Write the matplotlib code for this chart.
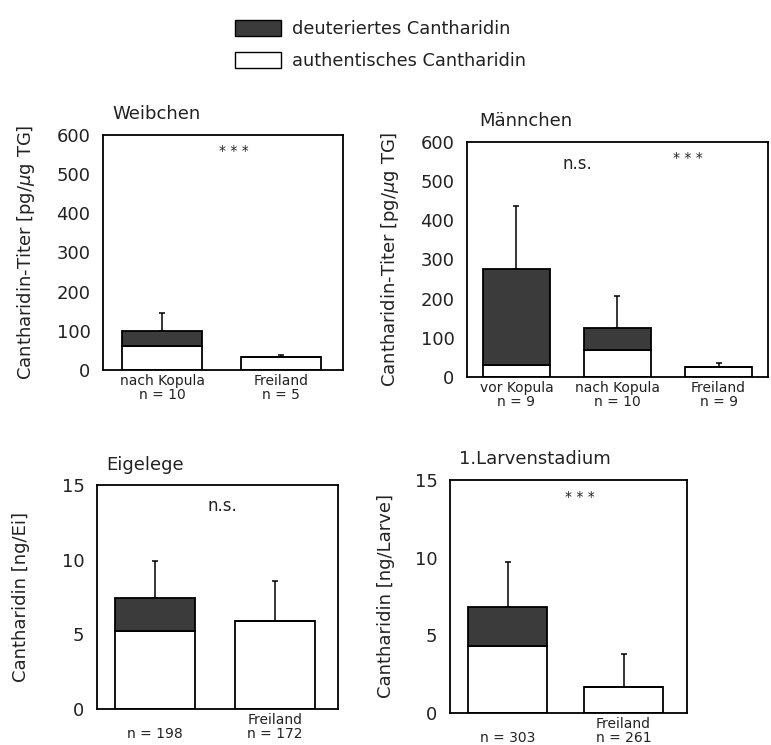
import numpy as np
import matplotlib
matplotlib.use('Agg')
import matplotlib.pyplot as plt
from matplotlib.patches import Patch

# --- data ---
# Weibchen
w_cats = ['nach Kopula\nn = 10', 'Freiland\nn = 5']
w_auth = [60, 33]
w_total = [100, 33]
w_err = [145, 38]
# Maennchen
m_cats = ['vor Kopula\nn = 9', 'nach Kopula\nn = 10', 'Freiland\nn = 9']
m_auth = [30, 70, 25]
m_total = [275, 125, 25]
m_err = [437, 207, 35]
# Eigelege
e_cats = ['\nn = 198', 'Freiland\nn = 172']
e_auth = [5.2, 5.9]
e_total = [7.4, 5.9]
e_err = [9.9, 8.6]
# 1. Larvenstadium
l_cats = ['\nn = 303', 'Freiland\nn = 261']
l_auth = [4.3, 1.7]
l_total = [6.8, 1.7]
l_err = [9.7, 3.8]

dark = '#3b3b3b'
W, H = 771, 745
fig = plt.figure(figsize=(W/100, H/100), dpi=100)

def rect(l, r, t, b):
    return [l/W, 1-b/H, (r-l)/W, (b-t)/H]

def panel(box, cats, auth, total, err, xlim, width, ylim, yticks,
          ylabel, ylab_x, title, notes):
    ax = fig.add_axes(rect(*box))
    x = np.arange(len(cats))
    auth = np.array(auth); total = np.array(total); err = np.array(err)
    ax.bar(x, auth, width, color='white', edgecolor='black', linewidth=1.3, zorder=2)
    ax.bar(x, total-auth, width, bottom=auth, color=dark, edgecolor='black', linewidth=1.3, zorder=2)
    ax.errorbar(x, total, yerr=[np.zeros(len(x)), err-total], fmt='none',
                ecolor='black', elinewidth=1.1, capsize=2, capthick=1.1, zorder=1)
    ax.set_xlim(*xlim)
    ax.set_ylim(*ylim)
    ax.set_yticks(yticks)
    ax.set_xticks(x)
    ax.set_xticklabels(cats, fontsize=10, linespacing=0.95)
    ax.tick_params(axis='y', length=0, pad=9, labelsize=13, colors='#222222')
    ax.tick_params(axis='x', length=0, pad=3, colors='#222222')
    for s in ax.spines.values():
        s.set_linewidth(1.3)
    ax.set_ylabel(ylabel, fontsize=13, color='#222222')
    ax.yaxis.set_label_coords(ylab_x, 0.5)
    ax.text(0.04, 1.05, title, transform=ax.transAxes, fontsize=13,
            ha='left', va='bottom', color='#222222')
    for xx, yy, s in notes:
        ax.text(xx, yy, s, ha='center', va='center', fontsize=12 if s == 'n.s.' else 10,
                color='#222222')
    return ax

ylab1 = 'Cantharidin-Titer [pg/$\\mu$g TG]'
panel((103, 343, 135, 370), w_cats, w_auth, w_total, w_err,
      (-0.496, 1.52), 0.67, (0, 600), [0, 100, 200, 300, 400, 500, 600],
      ylab1, -0.275, 'Weibchen', [(0.6, 560, '* * *')])
panel((467, 768, 142, 377), m_cats, m_auth, m_total, m_err,
      (-0.49, 2.49), 0.66, (0, 600), [0, 100, 200, 300, 400, 500, 600],
      ylab1, -0.22, 'Männchen', [(0.6, 545, 'n.s.'), (1.7, 560, '* * *')])
panel((97, 338, 485, 709), e_cats, e_auth, e_total, e_err,
      (-0.483, 1.525), 0.67, (0, 15), [0, 5, 10, 15],
      'Cantharidin [ng/Ei]', -0.28, 'Eigelege', [(0.56, 13.6, 'n.s.')])
panel((450, 687, 480, 713), l_cats, l_auth, l_total, l_err,
      (-0.496, 1.547), 0.68, (0, 15), [0, 5, 10, 15],
      'Cantharidin [ng/Larve]', -0.23, '1.Larvenstadium', [(0.62, 13.9, '* * *')])

handles = [Patch(facecolor=dark, edgecolor='black', linewidth=1.0),
           Patch(facecolor='white', edgecolor='black', linewidth=1.0)]
fig.legend(handles, ['deuteriertes Cantharidin', 'authentisches Cantharidin'],
           loc='upper left', bbox_to_anchor=(219/W, 1-4/H), frameon=False,
           fontsize=12.8, handlelength=2.6, handleheight=1.05,
           handletextpad=0.6, labelspacing=0.75, labelcolor='#222222')

fig.savefig('out.png', dpi=100)
